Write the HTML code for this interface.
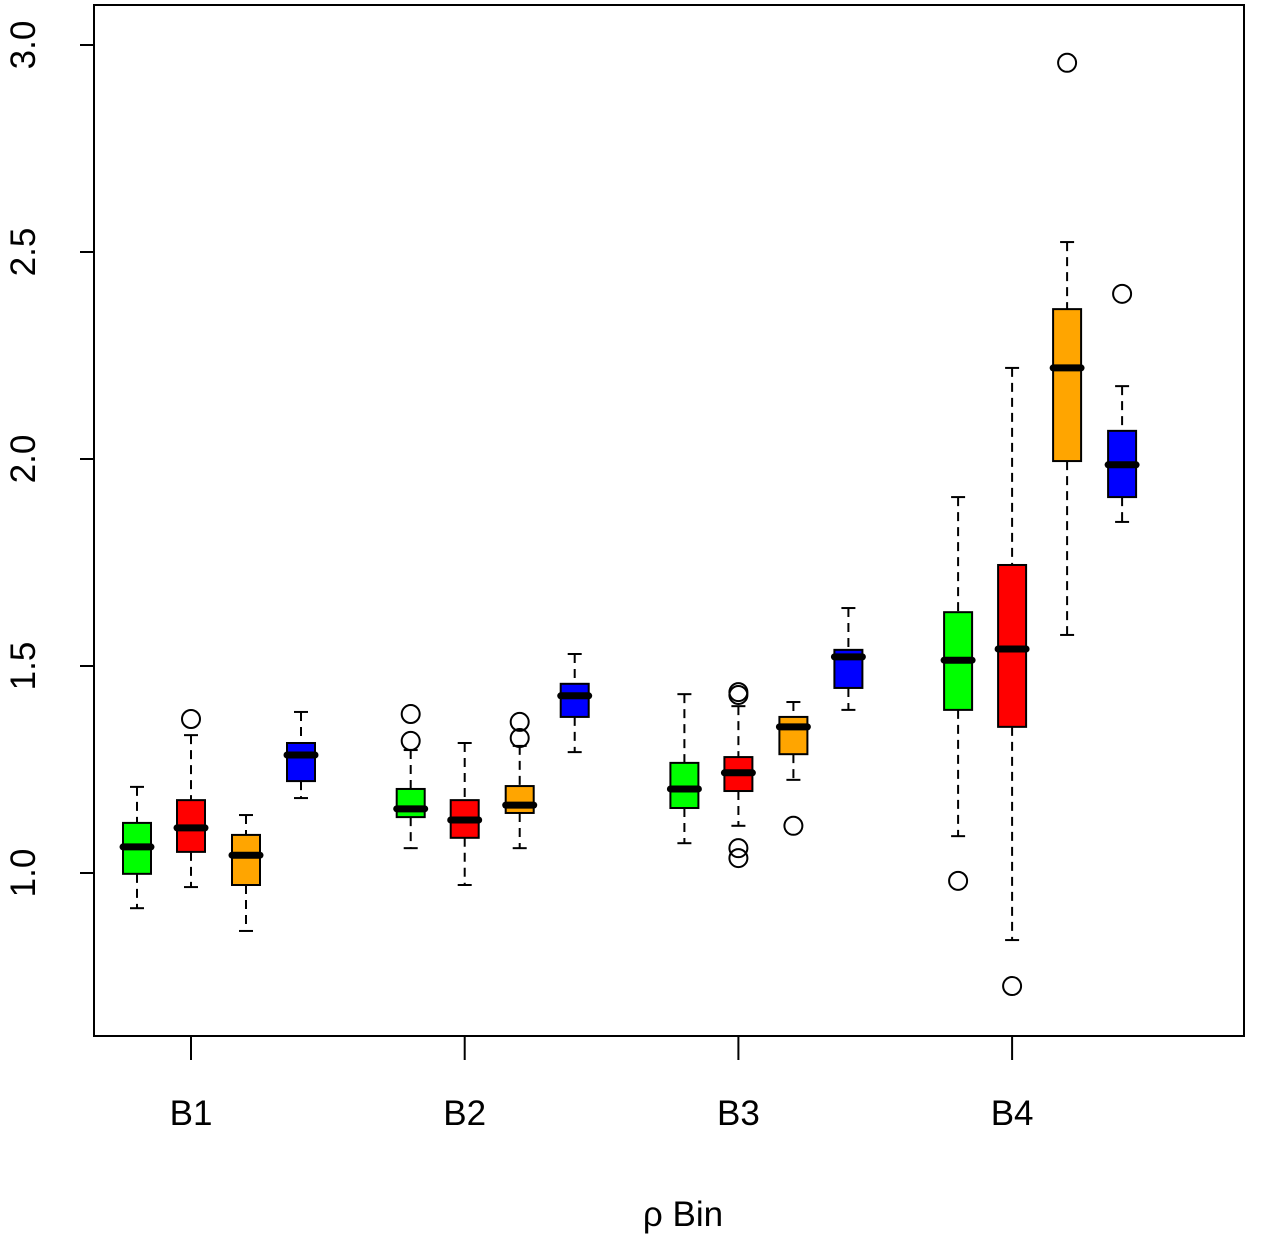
<!DOCTYPE html>
<html><head><meta charset="utf-8"><style>
html,body{margin:0;padding:0;background:#fff;}
svg{display:block;font-family:"Liberation Sans",Arial,sans-serif;}
</style></head><body>
<svg id="chart" width="1280" height="1240">
<rect x="94" y="5" width="1150" height="1031" fill="none" stroke="#000" stroke-width="2"/>
<g id="axes"></g>
<g id="boxes"></g>
<text x="683" y="1226" font-size="35" text-anchor="middle">ρ Bin</text>
</svg>
<script>
const categories = ["B1","B2","B3","B4"];
const seriesColors = ["#00ff00","#ff0000","#ffa500","#0000ff"];
const yTicks = [1.0,1.5,2.0,2.5,3.0];
const yTickLabels = ["1.0","1.5","2.0","2.5","3.0"];
// [lowWhisker, Q1, median, Q3, highWhisker] per category per series
const greenStats = [[0.915,0.998,1.063,1.121,1.208],[1.060,1.135,1.155,1.203,1.297],[1.072,1.157,1.203,1.266,1.432],[1.089,1.394,1.514,1.630,1.908]];
const redStats = [[0.966,1.051,1.109,1.176,1.333],[0.971,1.085,1.128,1.176,1.314],[1.114,1.198,1.242,1.280,1.403],[0.838,1.353,1.541,1.744,2.220]];
const orangeStats = [[0.860,0.971,1.043,1.092,1.140],[1.060,1.145,1.164,1.210,1.307],[1.225,1.287,1.353,1.377,1.413],[1.575,1.995,2.220,2.362,2.524]];
const blueStats = [[1.181,1.222,1.285,1.314,1.389],[1.292,1.377,1.428,1.457,1.529],[1.394,1.447,1.522,1.539,1.640],[1.848,1.908,1.986,2.068,2.176]];
const greenOut = [[],[1.384,1.319],[],[0.981]];
const redOut = [[1.372],[],[1.437,1.430,1.060,1.036],[0.727]];
const orangeOut = [[],[1.365,1.326],[1.114],[2.957]];
const blueOut = [[],[],[],[2.399]];

const stats=[greenStats,redStats,orangeStats,blueStats];
const outs=[greenOut,redOut,orangeOut,blueOut];
const seriesNames=["green","red","orange","blue"];
const NS="http://www.w3.org/2000/svg";
function y(v){return 873-(v-1)*414;}
function xc(i){return 191+i*273.7;}
const offs=[-54,0,55,110];
function mk(tag,attrs,parent){const e=document.createElementNS(NS,tag);for(const k in attrs)e.setAttribute(k,attrs[k]);parent.appendChild(e);return e;}
const ax=document.getElementById('axes'), bx=document.getElementById('boxes');
yTicks.forEach((t,i)=>{
  const l=mk('line',{x1:80,x2:94,y1:y(t),y2:y(t),stroke:'#000','stroke-width':2},ax);
  
  
  const tx=mk('text',{x:35,y:y(t),'font-size':35,'text-anchor':'middle',transform:`rotate(-90 35 ${y(t)})`},ax);
  tx.textContent=yTickLabels[i];
  
  
});
categories.forEach((c,i)=>{
  const l=mk('line',{x1:xc(i),x2:xc(i),y1:1036,y2:1060,stroke:'#000','stroke-width':2},ax);
  
  
  const tx=mk('text',{x:xc(i),y:1125,'font-size':35,'text-anchor':'middle'},ax);
  tx.textContent=c;
  
  
});
stats.forEach((ser,s)=>{
  ser.forEach((st,i)=>{
    const cx=xc(i)+offs[s], hw=14, cw=7;
    const g=mk('g',{},bx);
    
    
    mk('line',{x1:cx,x2:cx,y1:y(st[4]),y2:y(st[3]),stroke:'#000','stroke-width':2,'stroke-dasharray':'9 6'},g);
    mk('line',{x1:cx,x2:cx,y1:y(st[1]),y2:y(st[0]),stroke:'#000','stroke-width':2,'stroke-dasharray':'9 6'},g);
    mk('line',{x1:cx-cw,x2:cx+cw,y1:y(st[4]),y2:y(st[4]),stroke:'#000','stroke-width':2},g);
    mk('line',{x1:cx-cw,x2:cx+cw,y1:y(st[0]),y2:y(st[0]),stroke:'#000','stroke-width':2},g);
    mk('rect',{x:cx-hw,y:y(st[3]),width:2*hw,height:y(st[1])-y(st[3]),fill:seriesColors[s],stroke:'#000','stroke-width':2},g);
    mk('line',{x1:cx-hw,x2:cx+hw,y1:y(st[2]),y2:y(st[2]),stroke:'#000','stroke-width':7,'stroke-linecap':'round'},g);
    outs[s][i].forEach(v=>{
      const o=mk('circle',{cx:cx,cy:y(v),r:9,fill:'none',stroke:'#000','stroke-width':2},g);
      
      
    });
  });
});
</script>
</body></html>
